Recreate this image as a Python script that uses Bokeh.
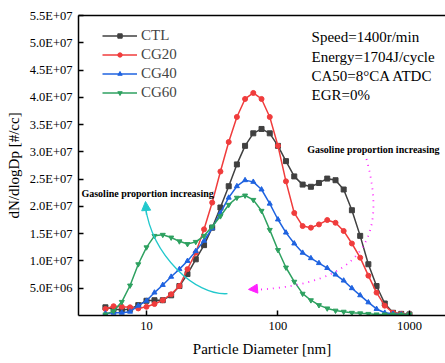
from bokeh.plotting import figure
from bokeh.models import (Range1d, LogAxis, FixedTicker, BasicTickFormatter, Legend,
                          LegendItem, Label, Arrow, NormalHead, ColumnDataSource)
from bokeh.embed import file_html
from bokeh.resources import INLINE

# ---------------- data ----------------
diameter_nm = [4.87, 5.62, 6.49, 7.50, 8.66, 10.0, 11.5, 13.3, 15.4, 17.8, 20.5, 23.7,
               27.4, 31.6, 36.5, 42.2, 48.7, 56.2, 64.9, 75.0, 86.6, 100, 115, 133,
               154, 178, 205, 237, 274, 316, 365, 422, 487, 562, 649, 750, 866, 1000]

ctl = [0.15, 0.12, 0.10, 0.12, 0.19, 0.27, 0.28, 0.28, 0.37, 0.54, 0.76, 1.03,
       1.29, 1.61, 1.98, 2.37, 2.77, 3.11, 3.34, 3.42, 3.34, 3.11, 2.83, 2.55,
       2.40, 2.36, 2.43, 2.51, 2.48, 2.31, 1.93, 1.46, 0.94, 0.54, 0.22, 0.05, 0.03, 0.02]
cg20 = [0.12, 0.17, 0.16, 0.15, 0.13, 0.16, 0.21, 0.28, 0.39, 0.54, 0.85, 1.15,
        1.58, 2.07, 2.64, 3.18, 3.64, 3.97, 4.08, 3.97, 3.64, 3.11, 2.46, 1.88,
        1.64, 1.61, 1.67, 1.75, 1.70, 1.55, 1.32, 1.06, 0.73, 0.42, 0.18, 0.05, 0.03, 0.02]
cg40 = [0.035, 0.05, 0.05, 0.07, 0.18, 0.27, 0.42, 0.56, 0.71, 0.85, 1.00, 1.18,
        1.37, 1.60, 1.88, 2.16, 2.37, 2.48, 2.45, 2.31, 2.05, 1.76, 1.52, 1.32,
        1.15, 1.05, 0.96, 0.87, 0.75, 0.64, 0.50, 0.37, 0.24, 0.12, 0.05, 0.03, 0.02, 0.02]
cg60 = [0.02, 0.08, 0.25, 0.55, 0.94, 1.25, 1.46, 1.48, 1.43, 1.36, 1.31, 1.35,
        1.46, 1.63, 1.82, 2.03, 2.16, 2.20, 2.12, 1.92, 1.57, 1.20, 0.88, 0.62,
        0.40, 0.28, 0.19, 0.13, 0.09, 0.07, 0.05, 0.04, 0.03, 0.02, 0.02, 0.02, 0.02, 0.02]
value_scale = 1e7  # values above are in units of 1E+07 #/cc

series_names = ["CTL", "CG20", "CG40", "CG60"]
series_values = [ctl, cg20, cg40, cg60]
series_colors = ["#404040", "#f03c3c", "#1f63e0", "#2ea160"]
series_markers = ["square", "circle", "triangle", "inverted_triangle"]

x_ticks = [10, 100, 1000]
x_tick_labels = ["10", "100", "1000"]
y_ticks = [5e6, 1e7, 1.5e7, 2e7, 2.5e7, 3e7, 3.5e7, 4e7, 4.5e7, 5e7, 5.5e7]
y_tick_labels = ["5.0E+06", "1.0E+07", "1.5E+07", "2.0E+07", "2.5E+07", "3.0E+07",
                 "3.5E+07", "4.0E+07", "4.5E+07", "5.0E+07", "5.5E+07"]

conditions = ["Speed=1400r/min", "Energy=1704J/cycle", "CA50=8\u00b0CA ATDC", "EGR=0%"]
annotation_text = "Gasoline proportion increasing"

SERIF = "Liberation Serif"

# ---------------- figure ----------------
p = figure(width=445, height=363, x_axis_type="log",
           x_range=Range1d(3.04, 1880), y_range=Range1d(0, 5.5e7),
           output_backend="svg", toolbar_location=None,
           min_border_left=78, min_border_right=0, min_border_top=15, min_border_bottom=48,
           x_axis_label="Particle Diameter [nm]", y_axis_label="dN/dlogDp [#/cc]")
p.outline_line_color = None
p.grid.visible = False
p.background_fill_color = "white"

xa = p.xaxis[0]
xa.ticker = FixedTicker(ticks=x_ticks)
xa.formatter = BasicTickFormatter()
xa.major_label_overrides = {float(t): s for t, s in zip(x_ticks, x_tick_labels)}
ya = p.yaxis[0]
ya.ticker = FixedTicker(ticks=y_ticks)
ya.major_label_overrides = {float(t): s for t, s in zip(y_ticks, y_tick_labels)}

for ax in (xa, ya):
    ax.axis_line_width = 1.5
    ax.axis_line_color = "black"
    ax.major_tick_in = 5
    ax.major_tick_out = 0
    ax.major_tick_line_width = 1.5
    ax.minor_tick_line_color = None
    ax.major_label_text_font = SERIF
    ax.major_label_text_font_size = "12.5px"
    ax.major_label_text_color = "black"
    ax.major_label_standoff = 6
    ax.axis_label_text_font = SERIF
    ax.axis_label_text_font_size = "15px"
    ax.axis_label_text_font_style = "normal"
    ax.axis_label_text_color = "black"
ya.axis_label_standoff = 5
xa.axis_label_standoff = 8

top_axis = LogAxis(ticker=FixedTicker(ticks=[]), major_label_text_font_size="0px",
                   major_tick_line_color=None, minor_tick_line_color=None,
                   axis_line_width=1.5, axis_line_color="black")
p.add_layout(top_axis, "above")

items = []
for name, vals, col, mk in zip(series_names, series_values, series_colors, series_markers):
    src = ColumnDataSource(dict(x=diameter_nm, y=[v * value_scale for v in vals]))
    ln = p.line("x", "y", source=src, line_color=col, line_width=1.5)
    sc = p.scatter("x", "y", source=src, marker=mk, size=5, fill_color=col, line_color=col)
    items.append(LegendItem(label=name, renderers=[ln, sc]))

legend = Legend(items=items, location=(24, 213), border_line_color=None,
                background_fill_alpha=0, label_text_font=SERIF, label_text_font_size="15px",
                glyph_width=35, glyph_height=11, label_height=19, spacing=0,
                padding=0, margin=0, label_standoff=4)
p.add_layout(legend)

# condition text block
cond_y = [5.10e7, 4.74e7, 4.39e7, 4.04e7]
for txt, yy in zip(conditions, cond_y):
    p.add_layout(Label(x=180, y=yy, text=txt, text_font=SERIF, text_font_size="15px",
                       text_baseline="middle", text_align="left", text_color="black"))

# gasoline annotations
p.add_layout(Label(x=3.2, y=2.24e7, text=annotation_text, text_font=SERIF,
                   text_font_size="10px", text_font_style="bold",
                   text_baseline="middle", text_align="left", text_color="black"))
p.add_layout(Label(x=166.7, y=3.05e7, text=annotation_text, text_font=SERIF,
                   text_font_size="10px", text_font_style="bold",
                   text_baseline="middle", text_align="left", text_color="black"))

cyan = "#22c8cc"
p.bezier(x0=[41.3], y0=[0.40e7], x1=[9.8], y1=[2.0e7],
         cx0=[23.6], cy0=[0.36e7], cx1=[11.1], cy1=[1.09e7],
         line_color=cyan, line_width=1.3)
p.add_layout(Arrow(end=NormalHead(size=9, fill_color=cyan, line_color=cyan),
                   x_start=10.0, y_start=1.85e7, x_end=9.83, y_end=2.09e7,
                   line_color=cyan, line_width=1.3))

magenta = "#ff22ff"
p.bezier(x0=[471], y0=[2.87e7], x1=[67.5], y1=[0.47e7],
         cx0=[692], cy0=[1.37e7], cx1=[424], cy1=[0.58e7],
         line_color=magenta, line_width=1.8, line_dash="1 5")
p.add_layout(Arrow(end=NormalHead(size=9, fill_color=magenta, line_color=magenta),
                   x_start=76.0, y_start=0.50e7, x_end=59.7, y_end=0.478e7,
                   line_color=magenta, line_alpha=0, line_width=1))

open("out.html", "w").write(file_html(p, INLINE))
